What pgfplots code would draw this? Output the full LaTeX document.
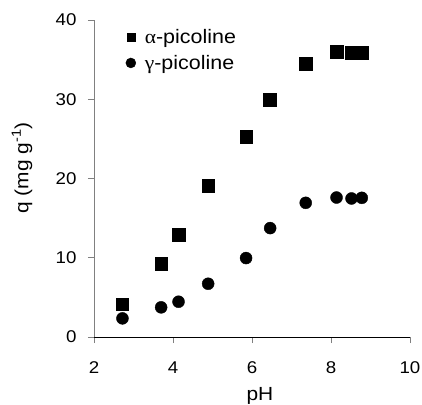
\documentclass[border=0pt]{standalone}
\usepackage{fontspec}
\setmainfont{Liberation Sans}[FakeStretch=1.1]
\newfontfamily\greekfont{Liberation Serif}[FakeStretch=1.1]
\usepackage{pgfplots}
\pgfplotsset{compat=1.18}

\pgfplotstableread{
pH   q
2.71 4.16
3.70 9.24
4.14 12.9
4.89 19.1
5.85 25.25
6.45 29.96
7.36 34.5
8.14 35.97
8.52 35.9
8.78 35.9
}\alphadata

\pgfplotstableread{
pH   q
2.72 2.35
3.70 3.74
4.14 4.45
4.89 6.72
5.85 9.96
6.46 13.74
7.36 16.93
8.14 17.6
8.52 17.48
8.78 17.56
}\gammadata

\definecolor{axisgray}{RGB}{128,128,128}
\newcommand{\tickfont}{\fontsize{17bp}{19bp}\selectfont}
\newcommand{\labelfont}{\fontsize{19bp}{22bp}\selectfont}
\newcommand{\legendfont}{\fontsize{19.5bp}{22bp}\selectfont}

\begin{document}
\begin{tikzpicture}
\path[use as bounding box] (-94bp,-68bp) rectangle (328bp,337bp);
\begin{axis}[
  scale only axis,
  width=316bp, height=317bp,
  at={(0,0)}, anchor=south west,
  xmin=2, xmax=10, ymin=0, ymax=40,
  xtick={2,4,6,8,10}, ytick={0,10,20,30,40},
  axis x line*=bottom, axis y line*=left,
  x axis line style={black, line width=0.9bp, -},
  y axis line style={axisgray, line width=0.9bp, -},
  tick style={axisgray, line width=0.8bp},
  tick align=outside,
  major tick length=6bp,
  /pgf/number format/assume math mode=true,
  every tick label/.append style={font=\tickfont},
  xticklabel style={yshift=-15bp},
  yticklabel style={xshift=-8bp},
  xlabel={pH}, ylabel={q (mg g\textsuperscript{-1})},
  every axis label/.append style={font=\labelfont},
  xlabel style={at={(axis description cs:0.525,-0.199)}, anchor=base},
  ylabel style={at={(axis description cs:-0.228,0.533)}, anchor=center},
  legend style={draw=none, fill=none, at={(axis description cs:0.097,0.98)}, anchor=north west,
    font=\legendfont, row sep=6bp, inner sep=1bp,
    /tikz/every odd column/.append style={column sep=7bp}},
  legend cell align=left,
  legend image code/.code={\draw[#1] plot coordinates {(0.12cm,0cm)};},
]
\addplot[only marks, mark=square*, mark size=6.3bp, black,
  legend image post style={mark size=4bp}] table[x=pH, y=q] {\alphadata};
\addlegendentry{{\greekfont α}-picoline}
\addplot[only marks, mark=*, mark size=6bp, black,
  legend image post style={mark size=5bp}] table[x=pH, y=q] {\gammadata};
\addlegendentry{{\greekfont γ}-picoline}
\end{axis}
\end{tikzpicture}
\end{document}
